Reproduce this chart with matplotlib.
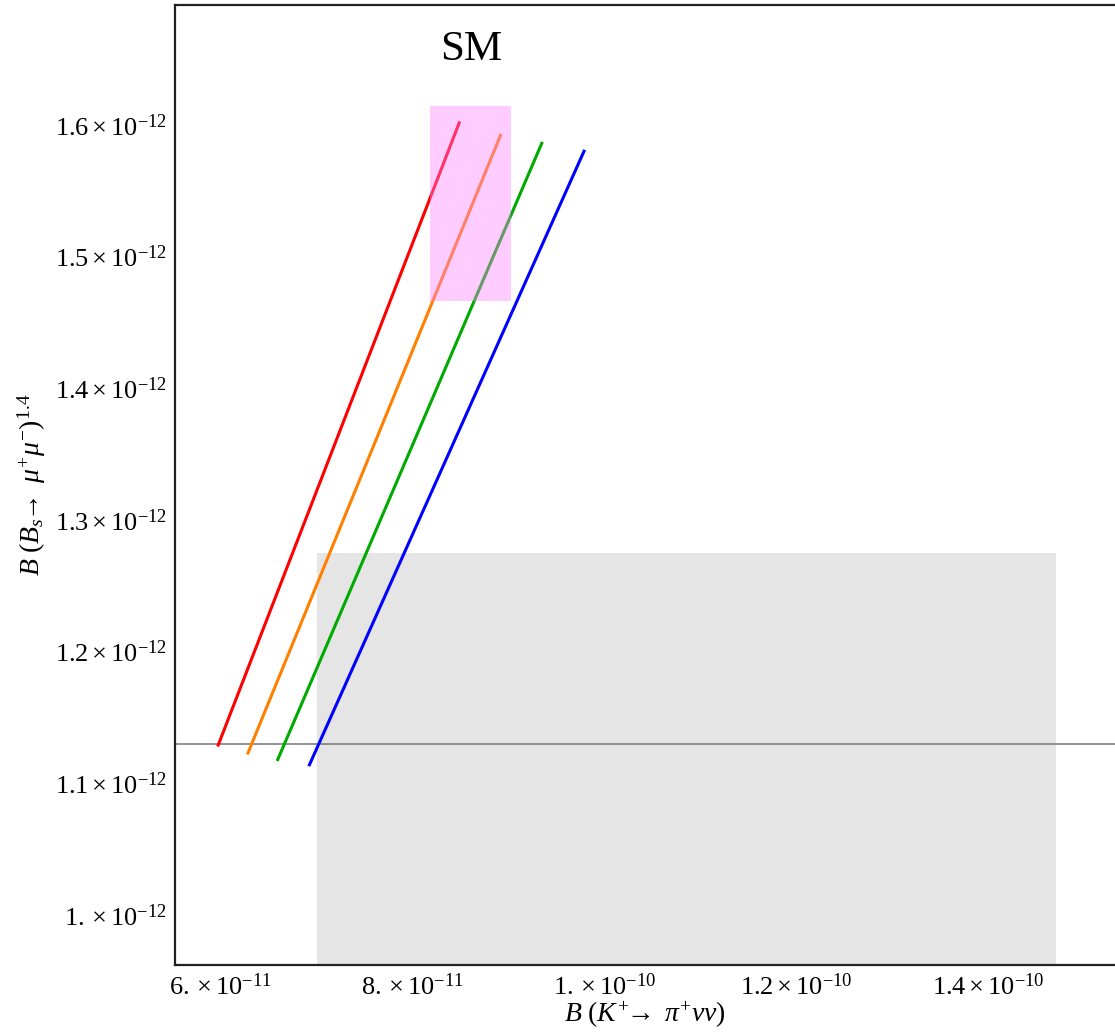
import matplotlib

matplotlib.use("Agg")
import matplotlib.pyplot as plt
from matplotlib.patches import Rectangle
from matplotlib.ticker import FixedLocator, FixedFormatter

# curves: (K+ -> pi+ nu nu, Bs -> mu mu) endpoints
line_colors = ["#ff0000", "#ff8000", "#00aa00", "#0000ff"]
line_x = [
    [5.98e-11, 8.49e-11],
    [6.29e-11, 8.92e-11],
    [6.60e-11, 9.35e-11],
    [6.93e-11, 9.79e-11],
]
line_y = [
    [1.129e-12, 1.6015e-12],
    [1.123e-12, 1.592e-12],
    [1.118e-12, 1.586e-12],
    [1.114e-12, 1.580e-12],
]

# experimental band (gray) and SM region (pink)
exp_x = [7.01e-11, 1.471e-10]
exp_y = [0.90e-12, 1.275e-12]
sm_x = [8.19e-11, 9.03e-11]
sm_y = [1.466e-12, 1.614e-12]
hline_y = 1.130e-12

x_ticks = [6e-11, 8e-11, 1e-10, 1.2e-10, 1.4e-10]
x_labels = [r"$6.\times10^{-11}$", r"$8.\times10^{-11}$", r"$1.\times10^{-10}$",
            r"$1.2\times10^{-10}$", r"$1.4\times10^{-10}$"]
y_ticks = [1.0e-12, 1.1e-12, 1.2e-12, 1.3e-12, 1.4e-12, 1.5e-12, 1.6e-12]
y_labels = [r"$1.\times10^{-12}$", r"$1.1\times10^{-12}$", r"$1.2\times10^{-12}$",
            r"$1.3\times10^{-12}$", r"$1.4\times10^{-12}$", r"$1.5\times10^{-12}$",
            r"$1.6\times10^{-12}$"]

plt.rcParams["font.family"] = ["Liberation Serif", "DejaVu Serif"]
plt.rcParams["mathtext.fontset"] = "custom"
plt.rcParams["mathtext.rm"] = "Liberation Serif"
plt.rcParams["mathtext.it"] = "Liberation Serif:italic"
plt.rcParams["mathtext.bf"] = "Liberation Serif:bold"

fig = plt.figure(figsize=(11.15, 10.33), dpi=100)
ax = fig.add_axes([175 / 1115, 68 / 1033, 940 / 1115, 960 / 1033])

ax.add_patch(Rectangle((exp_x[0], exp_y[0]), exp_x[1] - exp_x[0], exp_y[1] - exp_y[0],
                       facecolor="#e5e5e5", edgecolor="none", zorder=1))
ax.axhline(hline_y, color="#808080", linewidth=1.2, zorder=2)
for xs, ys, c in zip(line_x, line_y, line_colors):
    ax.plot(xs, ys, color=c, linewidth=2.2, zorder=3)
ax.add_patch(Rectangle((sm_x[0], sm_y[0]), sm_x[1] - sm_x[0], sm_y[1] - sm_y[0],
                       facecolor=(1.0, 0.5, 1.0), alpha=0.4, edgecolor="none", zorder=4))
ax.text(8.61e-11, 1.657e-12, "SM", fontsize=31, ha="center", va="center", zorder=5)

ax.set_xlim(5.53e-11, 1.532e-10)
ax.set_ylim(0.962e-12, 1.691e-12)
ax.xaxis.set_major_locator(FixedLocator(x_ticks))
ax.xaxis.set_major_formatter(FixedFormatter(x_labels))
ax.yaxis.set_major_locator(FixedLocator(y_ticks))
ax.yaxis.set_major_formatter(FixedFormatter(y_labels))
ax.tick_params(length=0, labelsize=19, pad=6)
ax.xaxis.get_offset_text().set_visible(False)
ax.yaxis.get_offset_text().set_visible(False)

ax.set_xlabel(r"$B\ (K^{+}\!\!\rightarrow\ \pi^{+}\nu\nu)$", fontsize=20, labelpad=0)
ax.set_ylabel(r"$B\ (B_{s}\!\!\rightarrow\ \mu^{+}\mu^{-})^{1.4}$", fontsize=20, labelpad=5)

ax.spines["right"].set_visible(False)
for side in ("left", "bottom", "top"):
    ax.spines[side].set_linewidth(1.6)
    ax.spines[side].set_color("#222222")

fig.savefig("out.png", dpi=100)
plt.close(fig)
